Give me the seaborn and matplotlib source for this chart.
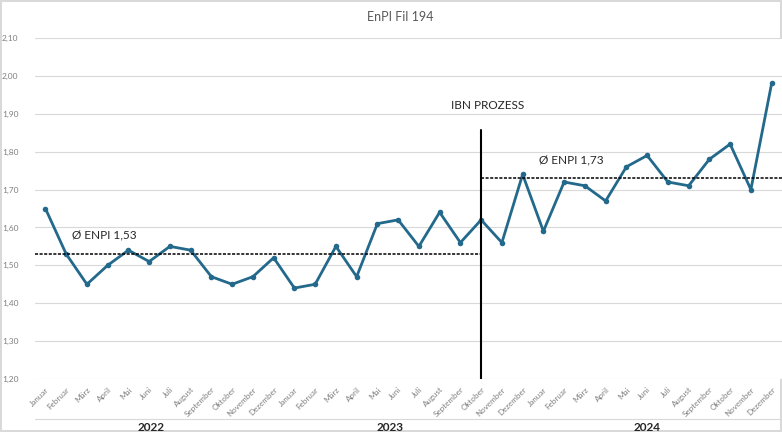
import numpy as np
import pandas as pd
import matplotlib
matplotlib.use("Agg")
import matplotlib.pyplot as plt
import seaborn as sns

# ---------------------------
# Data
# ---------------------------

months = ["Januar", "Februar", "März", "April", "Mai", "Juni", "Juli",
          "August", "September", "Oktober", "November", "Dezember"]
years = ["2022", "2023", "2024"]

enpi_2022 = [1.65, 1.53, 1.45, 1.50, 1.54, 1.51, 1.55, 1.54, 1.47, 1.45, 1.47, 1.52]
enpi_2023 = [1.44, 1.45, 1.55, 1.47, 1.61, 1.62, 1.55, 1.64, 1.56, 1.62, 1.56, 1.74]
enpi_2024 = [1.59, 1.72, 1.71, 1.67, 1.76, 1.79, 1.72, 1.71, 1.78, 1.82, 1.70, 1.98]

y_ticks = [1.20, 1.30, 1.40, 1.50, 1.60, 1.70, 1.80, 1.90, 2.00, 2.10]
y_tick_labels = ["1,20", "1,30", "1,40", "1,50", "1,60", "1,70", "1,80", "1,90", "2,00", "2,10"]

avg_before = 1.53
avg_after = 1.73
ibn_index = 21          # Oktober 2023
ibn_top = 1.857

df = pd.DataFrame({
    "Monat": months * 3,
    "Jahr": np.repeat(years, 12),
    "EnPI": enpi_2022 + enpi_2023 + enpi_2024,
})
df["Pos"] = np.arange(len(df))

# ---------------------------
# Plot
# ---------------------------

sns.set_style("white")
plt.rcParams["font.family"] = ["Lato", "DejaVu Sans"]

line_color = "#23698c"
grey = "#7f7f7f"

fig = plt.figure(figsize=(7.82, 4.32), dpi=100)
ax = fig.add_axes([0.0448, 0.1227, 0.9552, 0.7893])

for y in y_ticks:
    ax.axhline(y, color="#d9d9d9", lw=0.8, zorder=0)

sns.lineplot(
    data=df,
    x="Pos",
    y="EnPI",
    color=line_color,
    lw=2,
    marker="o",
    markersize=4,
    markeredgewidth=0,
    ax=ax,
    zorder=3
)

n = len(df)
ax.set_xlim(-0.5, n - 0.5)
ax.set_ylim(1.2, 2.1)

# average lines
ax.plot([-0.5, ibn_index], [avg_before, avg_before], color="black",
        ls=(0, (2, 1)), lw=1.1, zorder=4)
ax.plot([ibn_index, n - 0.5], [avg_after, avg_after], color="black",
        ls=(0, (2, 1)), lw=1.1, zorder=4)
ax.plot([ibn_index, ibn_index], [1.2, ibn_top], color="black", lw=1.5, zorder=4)

ax.text(1.3, avg_before + 0.04, "Ø ENPI 1,53", fontsize=8.5, color="#262626")
ax.text(23.8, avg_after + 0.04, "Ø ENPI 1,73", fontsize=8.5, color="#262626")
ax.text(ibn_index + 0.3, 1.923, "IBN PROZESS", fontsize=8.5, color="#262626",
        ha="center", va="center")

# axes / ticks
ax.set_yticks(y_ticks)
ax.set_yticklabels(y_tick_labels, fontsize=6, color=grey)
ax.set_xticks(df["Pos"])
ax.set_xticklabels(df["Monat"], rotation=45, ha="right", rotation_mode="anchor",
                   fontsize=5.8, color=grey)
ax.tick_params(axis="x", length=0, pad=5)
ax.tick_params(axis="y", length=0, pad=12)
ax.set_xlabel("")
ax.set_ylabel("")
for s in ax.spines.values():
    s.set_visible(False)

# year labels
year_pos = [5.1, 16.6, 29.0]
for yr, xp in zip(years, year_pos):
    ax.text(xp, -0.142, yr, transform=ax.get_xaxis_transform(), ha="center",
            va="center", fontsize=8.5, fontweight="bold", color="#262626")
fig.add_artist(plt.Line2D([0.0448, 1.0], [0.03, 0.03], color="#d9d9d9", lw=0.8,
                          transform=fig.transFigure))

fig.suptitle("EnPI Fil 194", x=0.512, y=0.975, fontsize=9, color="#595959")

fig.patch.set_edgecolor("#d9d9d9")
fig.patch.set_linewidth(1.5)

plt.savefig("out.png", dpi=100, edgecolor=fig.get_edgecolor())
